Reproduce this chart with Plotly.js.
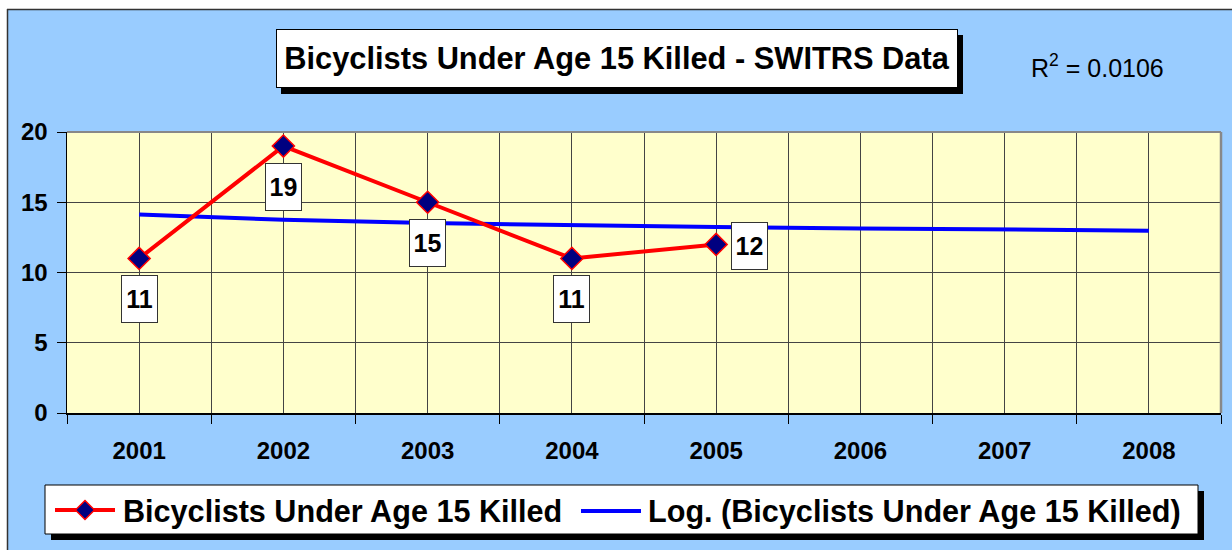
<!DOCTYPE html>
<html>
<head>
<meta charset="utf-8">
<script src="https://cdn.plot.ly/plotly-3.0.1.min.js"></script>
<style>html,body{margin:0;padding:0;background:#fff;}#chart{width:1232px;height:550px;}</style>
</head>
<body>
<div id="chart"></div>
<script>
// ---- data ----
const years = [2001, 2002, 2003, 2004, 2005, 2006, 2007, 2008];
const yearLabels = ['2001', '2002', '2003', '2004', '2005', '2006', '2007', '2008'];
const killedYears = [2001, 2002, 2003, 2004, 2005];
const killed = [11, 19, 15, 11, 12];
const trendValues = [14.13, 13.75, 13.52, 13.36, 13.24, 13.14, 13.05, 12.98];
const yTicks = [0, 5, 10, 15, 20];
const seriesName = 'Bicyclists Under Age 15 Killed';
const trendName = 'Log. (Bicyclists Under Age 15 Killed)';
const chartTitle = 'Bicyclists Under Age 15 Killed - SWITRS Data';
const rSquared = '0.0106';

// ---- layout geometry (pixels) ----
const W = 1232, H = 550;
const L = 67, R = 1221, T = 132, B = 413;
const px = p => (p - L) / (R - L);
const py = p => (B - p) / (B - T);
const FONT = 'Liberation Sans, Arial, sans-serif';

const boundaries = years.map(y => y - 0.5).concat([years[years.length - 1] + 0.5]);

const traces = [
  {
    x: years, y: trendValues, type: 'scatter', mode: 'lines', name: trendName,
    line: {color: '#0000FF', width: 4}, showlegend: false, hoverinfo: 'skip'
  },
  {
    x: killedYears, y: killed, type: 'scatter', mode: 'lines+markers', name: seriesName,
    line: {color: '#FF0000', width: 4},
    marker: {symbol: 'diamond', size: 17, color: '#000080', line: {color: '#FF0000', width: 1.5}},
    showlegend: false
  }
];

const shapes = [];
const annotations = [];

// white page margin + outer border
shapes.push({type: 'rect', xref: 'paper', yref: 'paper', x0: px(0), x1: px(7), y0: py(0), y1: py(H), fillcolor: '#fff', line: {width: 0}, layer: 'below'});
shapes.push({type: 'rect', xref: 'paper', yref: 'paper', x0: px(0), x1: px(W), y0: py(0), y1: py(9), fillcolor: '#fff', line: {width: 0}, layer: 'below'});
shapes.push({type: 'line', xref: 'paper', yref: 'paper', x0: px(7.5), x1: px(7.5), y0: py(9), y1: py(H), line: {color: '#333', width: 1.5}, layer: 'below'});
shapes.push({type: 'line', xref: 'paper', yref: 'paper', x0: px(7), x1: px(W), y0: py(9.5), y1: py(9.5), line: {color: '#333', width: 1.5}, layer: 'below'});

// plot border top/right (gray)
shapes.push({type: 'line', xref: 'paper', yref: 'paper', x0: 0, x1: 1, y0: 1, y1: 1, line: {color: '#888', width: 2}});
shapes.push({type: 'line', xref: 'paper', yref: 'paper', x0: 1, x1: 1, y0: 0, y1: 1, line: {color: '#888', width: 2.5}});

// title box shadow
shapes.push({type: 'rect', xref: 'paper', yref: 'paper', x0: px(281), x1: px(963), y0: py(94), y1: py(35), fillcolor: '#000', line: {width: 0}});
annotations.push({
  xref: 'paper', yref: 'paper', x: px(617), y: py(58.5), xanchor: 'center', yanchor: 'middle',
  text: '<b>' + chartTitle + '</b>', showarrow: false,
  font: {family: FONT, size: 30.8, color: '#000'},
  bgcolor: '#fff', bordercolor: '#000', borderwidth: 1, borderpad: 0, width: 680, height: 57
});
// R squared
annotations.push({
  xref: 'paper', yref: 'paper', x: px(1029), y: py(66), xanchor: 'left', yanchor: 'middle',
  text: 'R<sup>2</sup> = ' + rSquared, showarrow: false,
  font: {family: FONT, size: 25, color: '#000'}
});

// data labels
killed.forEach((v, i) => {
  const last = i === killed.length - 1;
  annotations.push({
    x: killedYears[i], y: v, xref: 'x', yref: 'y', showarrow: false,
    text: '<b>' + v + '</b>',
    font: {family: FONT, size: 25, color: '#000'},
    bgcolor: '#fff', bordercolor: '#333', borderwidth: 1, borderpad: 0, width: 35, height: 46,
    xanchor: last ? 'left' : 'center', yanchor: last ? 'middle' : 'top',
    xshift: last ? 15 : 0, yshift: last ? -2 : -17
  });
});

// legend (manual)
shapes.push({type: 'rect', xref: 'paper', yref: 'paper', x0: px(51), x1: px(1204), y0: py(540), y1: py(491), fillcolor: '#000', line: {width: 0}});
shapes.push({type: 'rect', xref: 'paper', yref: 'paper', x0: px(45), x1: px(1198), y0: py(534), y1: py(485), fillcolor: '#fff', line: {color: '#000', width: 1}});
shapes.push({type: 'line', xref: 'paper', yref: 'paper', x0: px(55), x1: px(115), y0: py(510), y1: py(510), line: {color: '#FF0000', width: 4}});
const dc = [85, 510], dh = 9.5;
shapes.push({type: 'path', xref: 'paper', yref: 'paper',
  path: 'M ' + px(dc[0] - dh) + ',' + py(dc[1]) + ' L ' + px(dc[0]) + ',' + py(dc[1] - dh) + ' L ' + px(dc[0] + dh) + ',' + py(dc[1]) + ' L ' + px(dc[0]) + ',' + py(dc[1] + dh) + ' Z',
  fillcolor: '#000080', line: {color: '#FF0000', width: 1.5}});
shapes.push({type: 'line', xref: 'paper', yref: 'paper', x0: px(581), x1: px(641), y0: py(511), y1: py(511), line: {color: '#0000FF', width: 4}});
annotations.push({xref: 'paper', yref: 'paper', x: px(121), y: py(511), xanchor: 'left', yanchor: 'middle', showarrow: false,
  text: '<b>' + seriesName + '</b>', font: {family: FONT, size: 30.6, color: '#000'}});
annotations.push({xref: 'paper', yref: 'paper', x: px(646), y: py(511), xanchor: 'left', yanchor: 'middle', showarrow: false,
  text: '<b>' + trendName + '</b>', font: {family: FONT, size: 30.6, color: '#000'}});

const layout = {
  width: W, height: H,
  margin: {l: L, r: W - R, t: T, b: H - B, pad: 0},
  paper_bgcolor: '#99CCFF',
  plot_bgcolor: '#FFFFCC',
  showlegend: false,
  font: {family: FONT, color: '#000'},
  xaxis: {
    range: [years[0] - 0.5, years[years.length - 1] + 0.5],
    tickmode: 'array', tickvals: years, ticktext: yearLabels.map(t => '<b>' + t + '</b>'),
    ticks: '', showgrid: true, gridcolor: '#444', gridwidth: 1,
    showline: true, linecolor: '#000', linewidth: 1.5, zeroline: false,
    tickfont: {family: FONT, size: 24, color: '#000'},
    ticklabelstandoff: 16,
    minor: {tickmode: 'array', tickvals: boundaries, ticks: 'outside', ticklen: 9, tickcolor: '#000', tickwidth: 1,
            showgrid: true, gridcolor: '#444', gridwidth: 1},
    fixedrange: true
  },
  yaxis: {
    range: [0, 20], tickmode: 'array', tickvals: yTicks, ticktext: yTicks.map(t => '<b>' + t + '</b>'),
    ticks: 'outside', ticklen: 9, tickcolor: '#000', tickwidth: 1,
    showgrid: true, gridcolor: '#444', gridwidth: 1,
    showline: true, linecolor: '#000', linewidth: 1.5, zeroline: false,
    tickfont: {family: FONT, size: 24, color: '#000'},
    ticklabelstandoff: 4,
    fixedrange: true
  },
  shapes: shapes,
  annotations: annotations
};

Plotly.newPlot('chart', traces, layout, {displayModeBar: false, staticPlot: true});
</script>
</body>
</html>
